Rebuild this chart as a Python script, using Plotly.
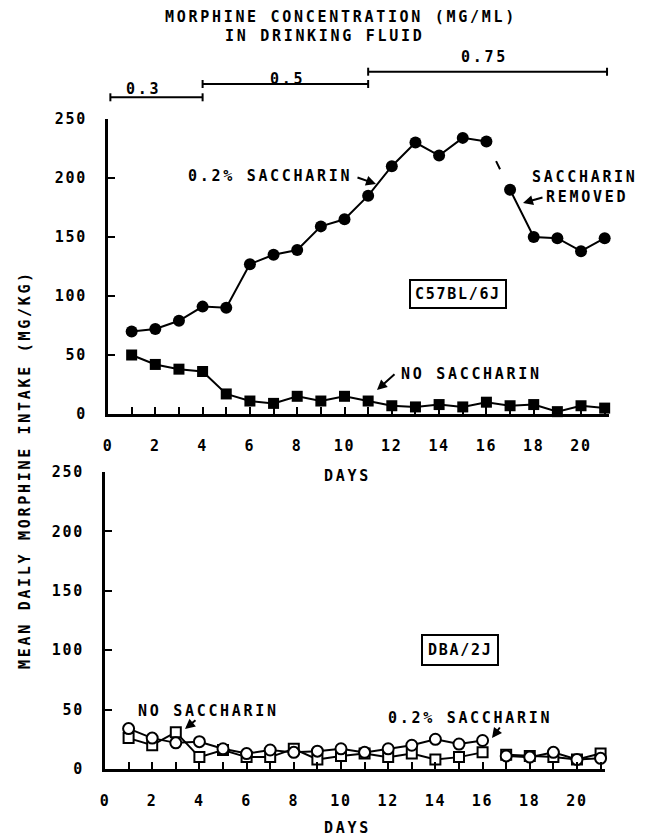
import plotly.graph_objects as go

# ---------------- data ----------------
days = list(range(1, 22))

# C57BL/6J
c57_saccharin = [70, 72, 79, 91, 90, 127, 135, 139, 159, 165, 185,
                 210, 230, 219, 234, 231, 190, 150, 149, 138, 149]
c57_no_saccharin = [50, 42, 38, 36, 17, 11, 9, 15, 11, 15, 11,
                    7, 6, 8, 6, 10, 7, 8, 2, 7, 5]

# DBA/2J
dba_saccharin = [34, 26, 22, 23, 17, 13, 16, 14, 15, 17, 14,
                 17, 20, 25, 21, 24, 11, 10, 14, 8, 9]
dba_no_saccharin = [26, 20, 31, 10, 16, 10, 10, 17, 8, 11, 13,
                    10, 13, 8, 10, 14, 12, 11, 10, 8, 13]

# morphine concentration periods (days)
conc_labels = ["0.3", "0.5", "0.75"]
conc_start = [0.1, 4, 11]
conc_end = [4, 11, 21.1]

y_ticks = [0, 50, 100, 150, 200, 250]
x_ticks = list(range(0, 21, 2))

# ---------------- styling helpers ----------------
W, H = 648, 837
FONT = "DejaVu Sans Mono"


def px(x):
    return x / W


def py(y):
    return 1 - y / H


def sp(t, s=2.7):
    return f'<span style="letter-spacing:{s}px">{t}</span>'


fig = go.Figure()

# ---- top panel (C57BL/6J) ----
fig.add_trace(go.Scatter(x=days[:16], y=c57_saccharin[:16], mode="lines+markers",
                         line=dict(color="black", width=2),
                         marker=dict(symbol="circle", size=12, color="black"),
                         cliponaxis=False, xaxis="x", yaxis="y", showlegend=False))
fig.add_trace(go.Scatter(x=days[15:17], y=c57_saccharin[15:17], mode="lines",
                         line=dict(color="black", width=2, dash="0px,22px,9px,200px"),
                         cliponaxis=False, xaxis="x", yaxis="y", showlegend=False))
fig.add_trace(go.Scatter(x=days[16:], y=c57_saccharin[16:], mode="lines+markers",
                         line=dict(color="black", width=2),
                         marker=dict(symbol="circle", size=12, color="black"),
                         cliponaxis=False, xaxis="x", yaxis="y", showlegend=False))
fig.add_trace(go.Scatter(x=days, y=c57_no_saccharin, mode="lines+markers",
                         line=dict(color="black", width=2),
                         marker=dict(symbol="square", size=11, color="black"),
                         cliponaxis=False, xaxis="x", yaxis="y", showlegend=False))

# ---- bottom panel (DBA/2J) ----
def gap(vals):
    return list(vals[:16]) + [None] + list(vals[16:])


gx = gap(days)
fig.add_trace(go.Scatter(x=gx, y=gap(dba_no_saccharin), mode="lines+markers",
                         line=dict(color="black", width=2), connectgaps=False,
                         marker=dict(symbol="square", size=10, color="white",
                                     line=dict(color="black", width=2)),
                         cliponaxis=False, xaxis="x2", yaxis="y2", showlegend=False))
fig.add_trace(go.Scatter(x=gx, y=gap(dba_saccharin), mode="lines+markers",
                         line=dict(color="black", width=2), connectgaps=False,
                         marker=dict(symbol="circle", size=11, color="white",
                                     line=dict(color="black", width=2)),
                         cliponaxis=False, xaxis="x2", yaxis="y2", showlegend=False))

axis_common = dict(showline=True, linecolor="black", linewidth=3, showgrid=False,
                   zeroline=False, ticks="inside", ticklen=7, tickwidth=2,
                   automargin=False, tickcolor="black",
                   tickfont=dict(family=FONT, size=15, color="black", weight="bold"))

xt = dict(tickmode="array", tickvals=x_ticks, ticktext=[sp(str(v), 1.7) for v in x_ticks],
          range=[0, 21.2], ticklabelstandoff=16,
          minor=dict(dtick=1, tick0=0, ticks="inside", ticklen=7, tickwidth=2,
                     tickcolor="black", showgrid=False))
yt = dict(tickmode="array", tickvals=y_ticks, ticktext=[sp(str(v), 1.7) for v in y_ticks],
          range=[0, 250], ticklabelstandoff=15)

fig.update_layout(
    width=W, height=H, margin=dict(l=0, r=0, t=0, b=0, autoexpand=False),
    paper_bgcolor="white", plot_bgcolor="white",
    xaxis=dict(domain=[px(108), px(609.4)], anchor="y", **xt, **axis_common),
    yaxis=dict(domain=[py(414), py(119)], anchor="x", **yt, **axis_common),
    xaxis2=dict(domain=[px(105), px(605.3)], anchor="y2", **xt, **axis_common),
    yaxis2=dict(domain=[py(769), py(472)], anchor="x2", **yt, **axis_common),
)

ann = []


def text(t, x, y, size=15, s=2.7, **kw):
    ann.append(dict(text=sp(t, s), x=px(x), y=py(y), xref="paper", yref="paper",
                    showarrow=False, xanchor="center", yanchor="middle",
                    font=dict(family=FONT, size=size, color="black", weight="bold"), **kw))


def arrow(tipx, tipy, tailx, taily):
    ann.append(dict(text="", x=px(tipx), y=py(tipy), xref="paper", yref="paper",
                    showarrow=True, ax=tailx - tipx, ay=taily - tipy,
                    arrowhead=2, arrowsize=1, arrowwidth=2, arrowcolor="black"))


# title
text("MORPHINE CONCENTRATION (MG/ML)", 341, 17)
text("IN DRINKING FLUID", 324, 36)
# bracket labels
for lab, (lx, ly) in zip(conc_labels, [(143, 89), (287, 79), (484, 57)]):
    text(lab, lx, ly)

# y-axis title
text("MEAN DAILY MORPHINE INTAKE (MG/KG)", 25, 470, textangle=-90)

# DAYS labels
text("DAYS", 347, 476)
text("DAYS", 347, 828)

# top annotations
text("0.2% SACCHARIN", 270, 176)
arrow(376, 184, 356, 177)
text("SACCHARIN", 585, 177)
text("REMOVED", 587, 197)
arrow(523, 203, 544, 197)
text("C57BL/6J", 458, 294, bordercolor="black", borderwidth=2, borderpad=4, s=1.7)
text("NO SACCHARIN", 471, 374)
arrow(377, 390, 396, 373)

# bottom annotations
text("NO SACCHARIN", 208, 711)
arrow(185, 729, 197, 719)
text("DBA/2J", 460, 650, bordercolor="black", borderwidth=2, borderpad=5, s=1.7)
text("0.2% SACCHARIN", 470, 718)
arrow(492, 738, 501, 726)

fig.update_layout(annotations=ann)

# concentration brackets
shapes = []
for st, en, yy in zip(conc_start, conc_end, [97.3, 84, 71.7]):
    shapes.append(dict(type="line", xref="x", yref="paper", x0=st, x1=en,
                       y0=py(yy), y1=py(yy), line=dict(color="black", width=2)))
    for xx in (st, en):
        shapes.append(dict(type="line", xref="x", yref="paper", x0=xx, x1=xx,
                           y0=py(yy - 4), y1=py(yy + 4), line=dict(color="black", width=2)))
fig.update_layout(shapes=shapes)

fig.write_html("out.html", config={"displayModeBar": False},
               post_script="document.body.style.margin='0';")
